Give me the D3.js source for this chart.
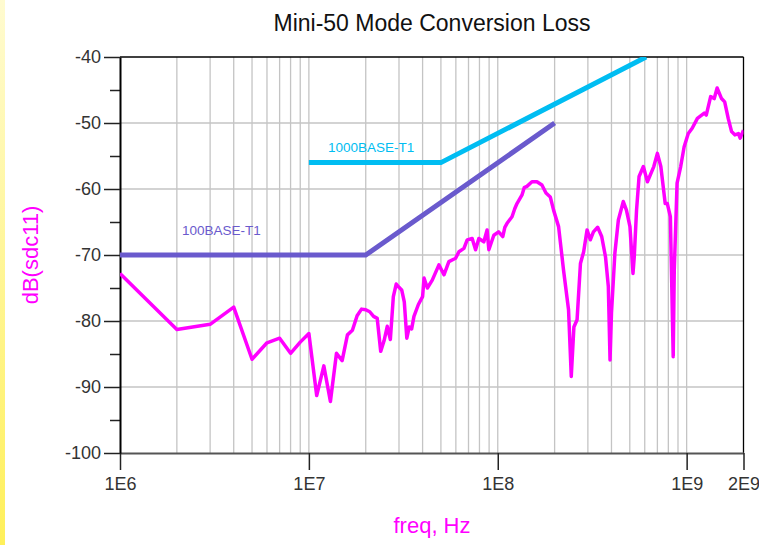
<!DOCTYPE html>
<html>
<head>
<meta charset="utf-8">
<script src="https://cdn.jsdelivr.net/npm/d3@7"></script>
<style>
  body { margin: 0; background: #fff; }
  text { font-family: "Liberation Sans", Arial, sans-serif; }
</style>
</head>
<body>
<div id="chartContainer"></div>
<script>
// measured sdc11 curve: [freq Hz, dB]
const sdc11 = [
  [1e6,-72.8],[2e6,-81.3],[3e6,-80.5],[4e6,-77.9],[5e6,-85.8],[6e6,-83.3],[7e6,-82.6],[8e6,-84.9],[9e6,-83.2],
  [1e7,-81.9],[1.1e7,-91.3],[1.2e7,-86.8],[1.3e7,-92.2],[1.4e7,-84.9],[1.5e7,-86.0],[1.6e7,-82.1],[1.7e7,-81.4],
  [1.8e7,-79.2],[1.9e7,-78.2],[2.0e7,-78.3],[2.1e7,-78.6],[2.2e7,-79.3],[2.3e7,-79.6],[2.4e7,-84.6],[2.5e7,-83.0],
  [2.6e7,-80.8],[2.7e7,-82.8],[2.8e7,-76.3],[2.9e7,-74.4],[3.0e7,-74.9],[3.1e7,-75.3],[3.2e7,-77.1],[3.3e7,-82.6],
  [3.4e7,-80.9],[3.5e7,-81.2],[3.6e7,-79.3],[3.8e7,-77.5],[4.0e7,-76.3],[4.07e7,-73.5],[4.24e7,-75.0],[4.5e7,-73.8],
  [4.88e7,-71.5],[5.19e7,-73.0],[5.51e7,-71.0],[5.98e7,-70.5],[6.23e7,-69.5],[6.62e7,-69.0],[6.89e7,-67.7],
  [7.32e7,-67.5],[7.63e7,-69.2],[7.94e7,-67.5],[8.44e7,-68.0],[8.78e7,-66.2],[8.97e7,-69.2],[9.53e7,-67.0],
  [1.01e8,-66.5],[1.063e8,-67.2],[1.09e8,-65.8],[1.12e8,-65.2],[1.19e8,-64.2],[1.23e8,-63.0],[1.264e8,-62.2],
  [1.344e8,-60.9],[1.38e8,-59.8],[1.427e8,-59.6],[1.517e8,-58.9],[1.612e8,-58.9],[1.713e8,-59.4],[1.80e8,-60.6],
  [1.897e8,-61.2],[1.975e8,-63.2],[2.099e8,-65.7],[2.23e8,-72.3],
  [2.37e8,-78.3],[2.45e8,-88.4],[2.53e8,-80.9],[2.63e8,-79.8],[2.74e8,-71.3],[2.85e8,-69.5],[2.97e8,-66.2],
  [3.09e8,-67.7],[3.21e8,-66.5],[3.38e8,-65.8],[3.55e8,-67.2],[3.72e8,-70.3],[3.85e8,-74.8],[3.93e8,-85.9],
  [4.0e8,-78.8],[4.17e8,-69.7],[4.35e8,-64.7],[4.62e8,-61.9],[4.8e8,-63.2],[5.01e8,-65.7],[5.2e8,-72.8],
  [5.28e8,-70.3],[5.43e8,-63.2],[5.6e8,-58.1],[5.9e8,-56.6],[6.2e8,-58.9],[6.7e8,-56.6],[7.0e8,-54.6],
  [7.3e8,-56.6],[7.7e8,-62.2],[7.9e8,-62.2],[8.2e8,-64.2],[8.49e8,-85.4],[8.6e8,-72.3],[8.9e8,-59.1],
  [9.3e8,-56.6],[9.7e8,-53.6],[1.02e9,-51.6],[1.07e9,-50.8],[1.14e9,-49.3],[1.24e9,-48.5],[1.27e9,-48.8],
  [1.34e9,-46.0],[1.4e9,-46.3],[1.45e9,-44.7],[1.53e9,-46.3],[1.59e9,-46.8],[1.66e9,-49.3],[1.73e9,-51.3],
  [1.8e9,-51.8],[1.88e9,-51.6],[1.92e9,-52.3],[2e9,-51.1]
];

// limit lines
const limit100 = [[1e6,-70],[2e7,-70],[2e8,-50]];
const limit1000 = [[1e7,-56],[5e7,-56],[6.1e8,-40]];

const xTicks = [1e6, 1e7, 1e8, 1e9, 2e9];
const xTickLabels = ["1E6", "1E7", "1E8", "1E9", "2E9"];
const yTicks = [-40, -50, -60, -70, -80, -90, -100];
const yMinorTicks = [-45, -55, -65, -75, -85, -95];

const size = {
  width: 759,
  height: 545,
  margin: { top: 57, bottom: 92, left: 120, right: 15 },
};
const { width, height, margin } = size;

const svg = d3.select("#chartContainer")
  .append("svg")
  .attr("width", width)
  .attr("height", height);

// yellow strip on the left edge
const grad = svg.append("defs").append("linearGradient")
  .attr("id", "strip").attr("x1", 0).attr("y1", 0).attr("x2", 0).attr("y2", 1);
grad.append("stop").attr("offset", "0%").attr("stop-color", "#fffbd0");
grad.append("stop").attr("offset", "100%").attr("stop-color", "#fff05a");
svg.append("rect").attr("x", 0).attr("y", 0).attr("width", 5).attr("height", height)
  .attr("fill", "url(#strip)");

const xScale = d3.scaleLog()
  .domain([1e6, 2e9])
  .range([margin.left, width - margin.right - 0.5]);

const yScale = d3.scaleLinear()
  .domain([-100, -40])
  .range([height - margin.bottom, margin.top]);

svg.append("defs").append("clipPath").attr("id", "plotClip")
  .append("rect")
  .attr("x", margin.left).attr("y", margin.top)
  .attr("width", xScale(2e9) - margin.left)
  .attr("height", yScale(-100) - margin.top);

// grid
const gridX = [];
for (let e = 6; e <= 9; e++) {
  for (let m = 1; m <= 9; m++) {
    const f = m * Math.pow(10, e);
    if (f > 1e6 && f < 2e9) gridX.push(f);
  }
}
svg.append("g").attr("class", "grid")
  .selectAll("line")
  .data(gridX)
  .enter().append("line")
    .attr("x1", d => xScale(d)).attr("x2", d => xScale(d))
    .attr("y1", yScale(-40)).attr("y2", yScale(-100))
    .attr("stroke", "#c4c4c4").attr("stroke-width", 1.3);

svg.append("g").attr("class", "grid")
  .selectAll("line")
  .data(yTicks.filter(d => d > -100 && d < -40))
  .enter().append("line")
    .attr("x1", xScale(1e6)).attr("x2", xScale(2e9))
    .attr("y1", d => yScale(d)).attr("y2", d => yScale(d))
    .attr("stroke", "#c4c4c4").attr("stroke-width", 1.3);

// frame top/right
svg.append("line")
  .attr("x1", xScale(1e6)).attr("x2", xScale(2e9))
  .attr("y1", yScale(-40)).attr("y2", yScale(-40))
  .attr("stroke", "#000").attr("stroke-width", 1.3);
svg.append("line")
  .attr("x1", xScale(2e9)).attr("x2", xScale(2e9))
  .attr("y1", yScale(-40)).attr("y2", yScale(-100))
  .attr("stroke", "#000").attr("stroke-width", 1.3);

// axes
const xAxis = svg.append("g")
  .attr("class", "axis x-axis")
  .attr("transform", `translate(0, ${yScale(-100)})`)
  .call(d3.axisBottom(xScale)
    .tickValues(xTicks)
    .tickFormat((d, i) => xTickLabels[i])
    .tickSize(17)
    .tickSizeOuter(0)
    .tickPadding(7));
xAxis.select(".domain").attr("stroke", "#555").attr("stroke-width", 2);
xAxis.selectAll(".tick line").attr("stroke", "#222").attr("stroke-width", 1.5);
xAxis.selectAll("text").attr("font-size", 18).attr("fill", "#333")
  .attr("font-family", "Liberation Sans, Arial, sans-serif");

svg.append("g")
  .attr("transform", `translate(${margin.left}, 0)`)
  .call(d3.axisLeft(yScale).tickValues(yMinorTicks).tickSize(10).tickSizeOuter(0).tickFormat(""))
  .call(g => g.select(".domain").remove())
  .selectAll(".tick line").attr("stroke", "#222").attr("stroke-width", 1.5);

const yAxis = svg.append("g")
  .attr("class", "axis y-axis")
  .attr("transform", `translate(${margin.left}, 0)`)
  .call(d3.axisLeft(yScale)
    .tickValues(yTicks)
    .tickFormat(d => String(d))
    .tickSize(16)
    .tickSizeOuter(0)
    .tickPadding(3));
yAxis.select(".domain").attr("stroke", "#000").attr("stroke-width", 2);
yAxis.selectAll(".tick line").attr("stroke", "#222").attr("stroke-width", 1.5);
yAxis.selectAll("text").attr("font-size", 18).attr("fill", "#333")
  .attr("font-family", "Liberation Sans, Arial, sans-serif");

// lines
const line = d3.line()
  .x(d => xScale(d[0]))
  .y(d => yScale(d[1]));

const plot = svg.append("g").attr("clip-path", "url(#plotClip)");

plot.append("path")
  .datum(limit100)
  .attr("d", line)
  .attr("fill", "none")
  .attr("stroke", "#6a5acd")
  .attr("stroke-width", 5);

plot.append("path")
  .datum(limit1000)
  .attr("d", line)
  .attr("fill", "none")
  .attr("stroke", "#00bdf2")
  .attr("stroke-width", 5);

plot.append("path")
  .datum(sdc11)
  .attr("d", line)
  .attr("fill", "none")
  .attr("stroke", "#ff00ff")
  .attr("stroke-width", 3.5)
  .attr("stroke-linejoin", "round");

// line labels
svg.append("text")
  .attr("x", 182).attr("y", 235)
  .attr("font-size", 13.5)
  .attr("fill", "#6a5acd")
  .text("100BASE-T1");

svg.append("text")
  .attr("x", 328).attr("y", 152)
  .attr("font-size", 13.5)
  .attr("fill", "#00bdf2")
  .text("1000BASE-T1");

// titles
svg.append("text")
  .attr("x", 432).attr("y", 31)
  .attr("text-anchor", "middle")
  .attr("font-size", 23)
  .attr("fill", "#111")
  .text("Mini-50 Mode Conversion Loss");

svg.append("text")
  .attr("x", 432).attr("y", 533)
  .attr("text-anchor", "middle")
  .attr("font-size", 22)
  .attr("fill", "#ff00ff")
  .text("freq, Hz");

svg.append("text")
  .attr("transform", "translate(38, 255) rotate(-90)")
  .attr("text-anchor", "middle")
  .attr("font-size", 22)
  .attr("fill", "#ff00ff")
  .text("dB(sdc11)");
</script>
</body>
</html>
